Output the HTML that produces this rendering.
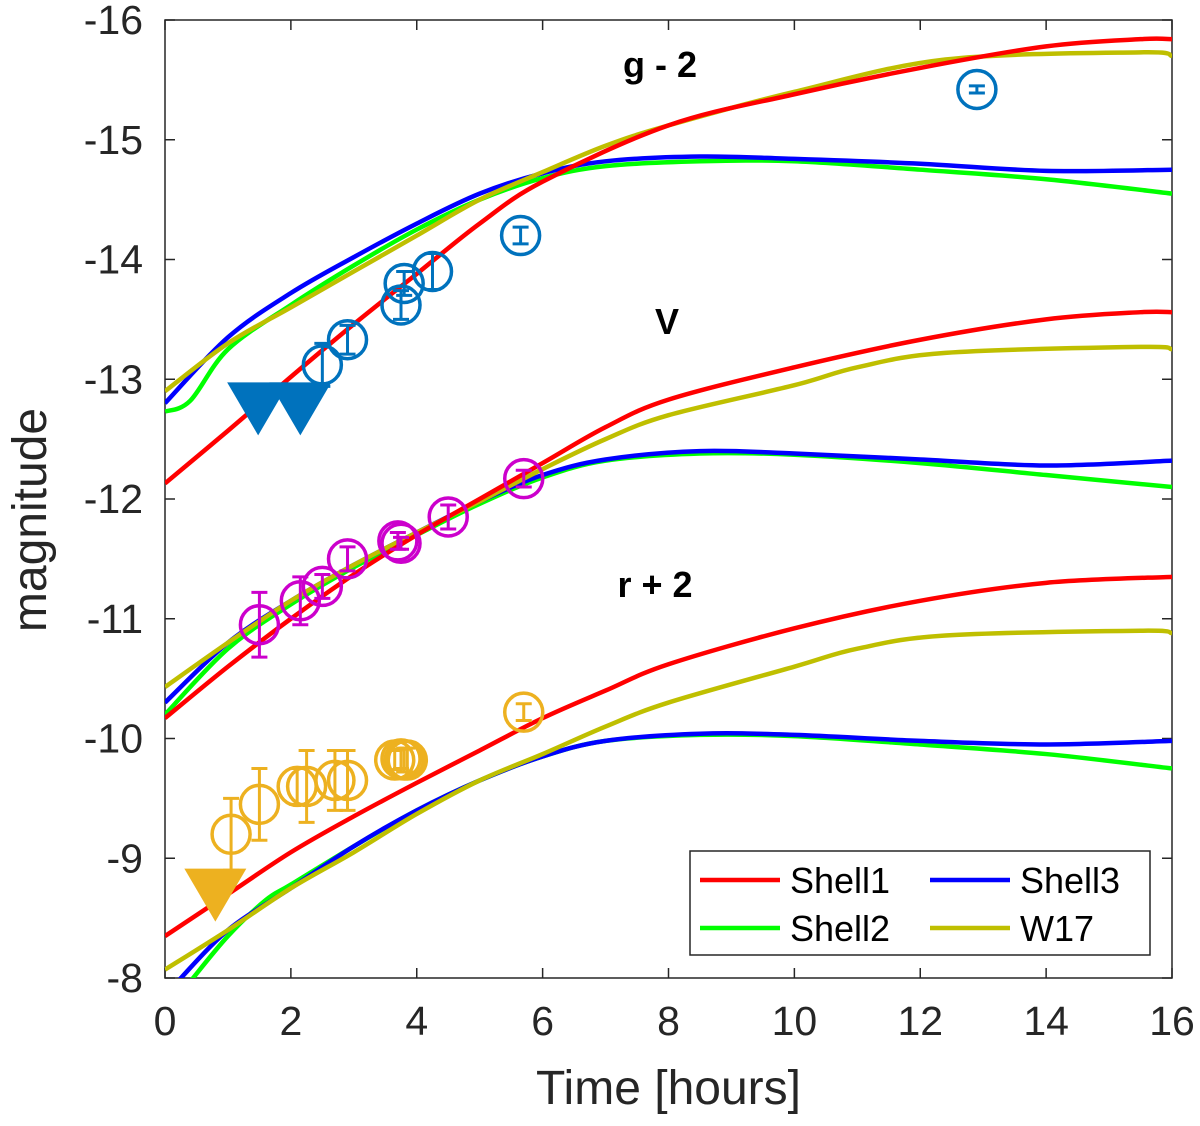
<!DOCTYPE html>
<html><head><meta charset="utf-8"><style>
body{margin:0;background:#fff}
svg text{font-family:"Liberation Sans",Arial,sans-serif}
</style></head><body>
<svg id="chart" width="1200" height="1121" xmlns="http://www.w3.org/2000/svg"></svg>
<script>
const xTicks=[0,2,4,6,8,10,12,14,16];
const yTicks=[-16,-15,-14,-13,-12,-11,-10,-9,-8];
const tG1=[0,1,2,3,4,5,6,8,10,12,14,15.5,16];
const gShell1=[-12.13,-12.57,-13.02,-13.46,-13.88,-14.3,-14.65,-15.12,-15.38,-15.6,-15.78,-15.84,-15.84];
const tG3=[0,1,2,3,4,5,6,7,8.5,10,12,14,16];
const gShell3=[-12.8,-13.35,-13.72,-14.02,-14.3,-14.55,-14.72,-14.82,-14.86,-14.84,-14.8,-14.74,-14.75];
const tG2=[0,0.4,1,2,3,4,5,6,7,8.5,10,12,14,16];
const gShell2=[-12.73,-12.82,-13.25,-13.62,-13.95,-14.25,-14.5,-14.68,-14.78,-14.82,-14.82,-14.75,-14.67,-14.55];
const tGW=[0,1,2,3,4,5,6,7,8,10,12.4,15.5,16];
const gW17=[-12.9,-13.3,-13.6,-13.9,-14.2,-14.5,-14.73,-14.95,-15.12,-15.4,-15.67,-15.73,-15.7];
const tV=[0,1,2,3,4,5,6,7,8,10,12,14,15.5,16];
const vShell1=[-10.17,-10.6,-11.0,-11.37,-11.7,-12.0,-12.3,-12.6,-12.83,-13.1,-13.33,-13.5,-13.56,-13.56];
const tV3=[0,1,2,3,4,5,6,7,8.5,10,12,14,16];
const vShell3=[-10.3,-10.8,-11.15,-11.45,-11.72,-11.98,-12.2,-12.33,-12.4,-12.38,-12.33,-12.28,-12.32];
const vShell2=[-10.2,-10.75,-11.12,-11.43,-11.7,-11.96,-12.18,-12.32,-12.38,-12.37,-12.3,-12.2,-12.1];
const tVW=[0,1,2,3,4,5,6,7,8,10,11,12.4,15.5,16];
const vW17=[-10.43,-10.8,-11.15,-11.45,-11.72,-11.98,-12.25,-12.5,-12.7,-12.95,-13.1,-13.22,-13.27,-13.25];
const tR1=[0,1,2,3,4,5,6,7,8,10,12,14,16];
const rShell1=[-8.35,-8.7,-9.05,-9.35,-9.63,-9.9,-10.17,-10.4,-10.62,-10.92,-11.15,-11.3,-11.35];
const tR3=[0.2,1,2,3,4,5,6,7,8.5,10,12,14,16];
const rShell3=[-7.97,-8.4,-8.75,-9.1,-9.4,-9.65,-9.85,-9.98,-10.04,-10.03,-9.98,-9.95,-9.98];
const tR2=[0.4,1,1.6,2,3,4,5,6,7,8.5,10,12,14,16];
const rShell2=[-7.97,-8.35,-8.65,-8.78,-9.1,-9.4,-9.65,-9.85,-9.98,-10.03,-10.02,-9.95,-9.87,-9.75];
const tRW=[0,1,2,3,4,5,6,7,8,10,11,12.4,15.5,16];
const rW17=[-8.07,-8.4,-8.75,-9.05,-9.37,-9.65,-9.87,-10.1,-10.3,-10.6,-10.75,-10.86,-10.9,-10.88];
const gObsT=[2.5,2.9,3.75,3.8,4.25,5.65,12.9];
const gObsM=[-13.12,-13.33,-13.62,-13.8,-13.9,-14.2,-15.42];
const gObsE=[0.18,0.12,0.12,0.1,0.15,0.07,0.03];
const gLimT=[1.48,2.15];
const gLimM=[-12.74,-12.74];
const vObsT=[1.5,2.15,2.5,2.9,3.7,3.75,4.5,5.7];
const vObsM=[-10.95,-11.15,-11.27,-11.5,-11.65,-11.63,-11.85,-12.17];
const vObsE=[0.27,0.2,0.1,0.1,0.07,0.05,0.1,0.07];
const rObsT=[1.05,1.5,2.1,2.25,2.7,2.9,3.65,3.75,3.8,3.85,5.7];
const rObsM=[-9.2,-9.45,-9.6,-9.6,-9.65,-9.65,-9.82,-9.83,-9.82,-9.82,-10.22];
const rObsE=[0.3,0.3,0.15,0.3,0.25,0.25,0.08,0.08,0.1,0.1,0.07];
const rLimT=[0.8];
const rLimM=[-8.68];

const X0=165,X1=1172,Y0=20,Y1=978;
const sx=t=>X0+(t-0)/16*(X1-X0);
const sy=m=>Y0+(m-(-16))/8*(Y1-Y0);
const NS='http://www.w3.org/2000/svg';
const svg=document.getElementById('chart');
function mk(tag,attrs,parent){const e=document.createElementNS(NS,tag);for(const k in attrs)e.setAttribute(k,attrs[k]);(parent||svg).appendChild(e);return e;}

const defs=mk('clipPath',{id:'clip'});mk('rect',{x:X0,y:Y0,width:X1-X0,height:Y1-Y0},defs);
const frame=mk('rect',{x:X0,y:Y0,width:X1-X0,height:Y1-Y0,fill:'none',stroke:'#262626','stroke-width':1.5});



xTicks.forEach(v=>{
 const x=sx(v);
 mk('line',{x1:x,y1:Y1,x2:x,y2:Y1-10,stroke:'#262626','stroke-width':1.5});
 mk('line',{x1:x,y1:Y0,x2:x,y2:Y0+10,stroke:'#262626','stroke-width':1.5});
 const t=mk('text',{x:x,y:Y1+57,'text-anchor':'middle','font-size':41,fill:'#262626'});t.textContent=v;
 
 
});
yTicks.forEach(v=>{
 const y=sy(v);
 mk('line',{x1:X0,y1:y,x2:X0+10,y2:y,stroke:'#262626','stroke-width':1.5});
 mk('line',{x1:X1,y1:y,x2:X1-10,y2:y,stroke:'#262626','stroke-width':1.5});
 const t=mk('text',{x:X0-22,y:y+14,'text-anchor':'end','font-size':41,fill:'#262626'});t.textContent=v;
 
 
});
const xl=mk('text',{x:(X0+X1)/2,y:1104,'text-anchor':'middle','font-size':48,fill:'#262626'});xl.textContent='Time [hours]';


const yl=mk('text',{x:0,y:0,'text-anchor':'middle','font-size':48,fill:'#262626',transform:'translate(46,520) rotate(-90)'});yl.textContent='magnitude';



const g=mk('g',{'clip-path':'url(#clip)'});
function smoothPath(P){
 let d='M'+P[0][0]+','+P[0][1];
 for(let i=0;i<P.length-1;i++){
  const p0=P[Math.max(0,i-1)],p1=P[i],p2=P[i+1],p3=P[Math.min(P.length-1,i+2)];
  const c1=[p1[0]+(p2[0]-p0[0])/6,p1[1]+(p2[1]-p0[1])/6];
  const c2=[p2[0]-(p3[0]-p1[0])/6,p2[1]-(p3[1]-p1[1])/6];
  d+=` C${c1[0]},${c1[1]} ${c2[0]},${c2[1]} ${p2[0]},${p2[1]}`;
 }
 return d;
}
function line(ts,ms,col,name){
 const P=ts.map((t,i)=>[sx(t),sy(ms[i])]);
 const p=mk('path',{d:smoothPath(P),fill:'none',stroke:col,'stroke-width':4.5,'stroke-linejoin':'round'},g);
 
 
}
const RED='#ff0000',GRN='#00ff00',BLU='#0000ff',OLV='#bfbf00';
line(tG2,gShell2,GRN,'g-shell2-curve');line(tG3,gShell3,BLU,'g-shell3-curve');line(tGW,gW17,OLV,'g-w17-curve');line(tG1,gShell1,RED,'g-shell1-curve');
line(tV3,vShell2,GRN,'v-shell2-curve');line(tV3,vShell3,BLU,'v-shell3-curve');line(tVW,vW17,OLV,'v-w17-curve');line(tV,vShell1,RED,'v-shell1-curve');
line(tR2,rShell2,GRN,'r-shell2-curve');line(tR3,rShell3,BLU,'r-shell3-curve');line(tRW,rW17,OLV,'r-w17-curve');line(tR1,rShell1,RED,'r-shell1-curve');

function pts(ts,ms,es,col,name){
 ts.forEach((t,i)=>{
  const x=sx(t),y=sy(ms[i]),y1=sy(ms[i]-es[i]),y2=sy(ms[i]+es[i]);
  const gg=mk('g',{},g);
  
  
  mk('line',{x1:x,y1:y1,x2:x,y2:y2,stroke:col,'stroke-width':3},gg);
  mk('line',{x1:x-8,y1:y1,x2:x+8,y2:y1,stroke:col,'stroke-width':3},gg);
  mk('line',{x1:x-8,y1:y2,x2:x+8,y2:y2,stroke:col,'stroke-width':3},gg);
  mk('circle',{cx:x,cy:y,r:19,fill:'none',stroke:col,'stroke-width':3.5},gg);
 });
}
function tris(ts,ms,col,name){
 ts.forEach((t,i)=>{
  const x=sx(t),y=sy(ms[i]);
  const p=mk('polygon',{points:`${x-31},${y-28} ${x+31},${y-28} ${x},${y+25}`,fill:col},g);
  
  
 });
}
tris(gLimT,gLimM,'#0072bd','g-upper-limit');
pts(gObsT,gObsM,gObsE,'#0072bd','g-observation');
pts(vObsT,vObsM,vObsE,'#cc00cc','v-observation');
tris(rLimT,rLimM,'#edb120','r-upper-limit');
pts(rObsT,rObsM,rObsE,'#edb120','r-observation');

[['g - 2',660,77,'g-band-label'],['V',667,334,'v-band-label'],['r + 2',655,597,'r-band-label']].forEach(a=>{
 const t=mk('text',{x:a[1],y:a[2],'text-anchor':'middle','font-size':36,'font-weight':'bold',fill:'#000'});t.textContent=a[0];
 
 
});

const lg=mk('g',{});


mk('rect',{x:690,y:851,width:460,height:104,fill:'#fff',stroke:'#262626','stroke-width':1.5},lg);
[['Shell1',RED,700,880],['Shell3',BLU,930,880],['Shell2',GRN,700,928],['W17',OLV,930,928]].forEach(a=>{
 const e=mk('g',{},lg);
 
 
 mk('line',{x1:a[2],y1:a[3],x2:a[2]+80,y2:a[3],stroke:a[1],'stroke-width':4.5},e);
 const t=mk('text',{x:a[2]+90,y:a[3]+13,'font-size':36,fill:'#000'},e);t.textContent=a[0];
});
</script>
</body></html>
